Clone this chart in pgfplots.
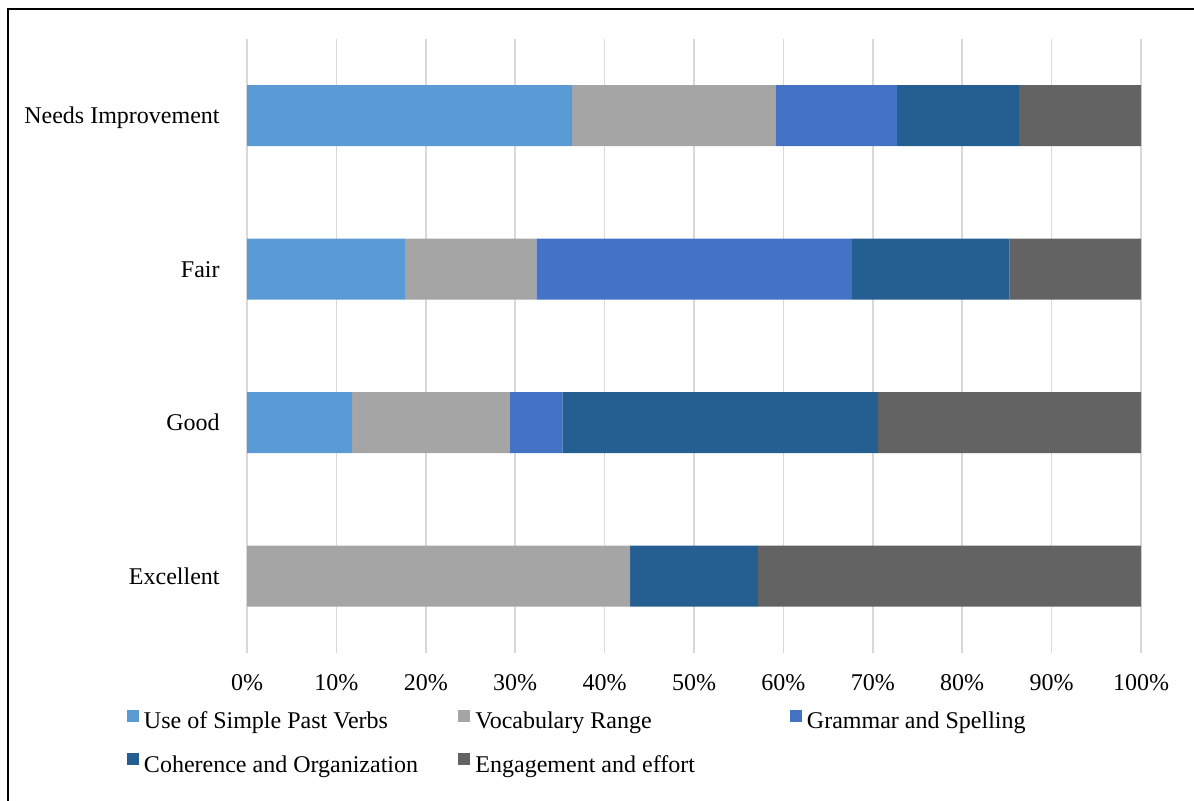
\documentclass[border=0pt]{standalone}
\usepackage{pgfplots}
\pgfplotsset{compat=1.18}
\usepackage{fontspec}
\setmainfont{Liberation Serif}
\definecolor{cA}{HTML}{5B9BD5}
\definecolor{cB}{HTML}{A5A5A5}
\definecolor{cC}{HTML}{4472C4}
\definecolor{cD}{HTML}{255E91}
\definecolor{cE}{HTML}{636363}
\definecolor{gridgray}{HTML}{D9D9D9}
\begin{document}
\begin{tikzpicture}
\useasboundingbox (0,0) rectangle (597pt,400.5pt);
\draw[line width=1pt] (4pt,0) -- (4pt,395.75pt) -- (597pt,395.75pt);
\begin{axis}[
  at={(123.5pt,74pt)}, anchor=south west,
  scale only axis, width=447pt, height=307pt,
  xbar stacked, bar width=30.5pt,
  xmin=0, xmax=100, ymin=-0.5, ymax=3.5,
  xtick={0,10,20,30,40,50,60,70,80,90,100},
  xticklabels={0\%,10\%,20\%,30\%,40\%,50\%,60\%,70\%,80\%,90\%,100\%},
  ytick={0,1,2,3},
  yticklabels={Excellent,Good,Fair,Needs Improvement},
  xmajorgrids, ymajorgrids=false,
  major grid style={color=gridgray, line width=0.75pt},
  axis line style={draw=none},
  major tick length=0pt, tick style={draw=none},
  tick label style={font=\fontsize{12pt}{14pt}\selectfont},
  xticklabel style={anchor=base, inner sep=0pt, yshift=-18.75pt},
  yticklabel style={anchor=base east, inner sep=0pt, xshift=-13.5pt, yshift=-4pt},
  legend columns=3,
  legend cell align=left,
  legend style={at={(axis description cs:0,0)}, anchor=north west,
    xshift=-60pt, yshift=-28.5pt, draw=none, fill=none,
    inner sep=0pt, outer sep=0pt, column sep=0pt, row sep=9.25pt,
    font=\fontsize{12pt}{14pt}\selectfont,
    nodes={inner sep=0pt, text height=9pt, text depth=3pt},
    /tikz/every odd column/.style={column sep=2.5pt}},
  legend image code/.code={\fill[#1] (0pt,0.5pt) rectangle (6pt,6.5pt);},
]
\addplot[fill=cA, draw=none] coordinates {(36.36,3) (17.65,2) (11.76,1) (0,0)};
\addplot[fill=cB, draw=none] coordinates {(22.73,3) (14.71,2) (17.65,1) (42.86,0)};
\addplot[fill=cC, draw=none] coordinates {(13.64,3) (35.29,2) (5.88,1) (0,0)};
\addplot[fill=cD, draw=none] coordinates {(13.64,3) (17.65,2) (35.29,1) (14.29,0)};
\addplot[fill=cE, draw=none] coordinates {(13.63,3) (14.70,2) (29.42,1) (42.85,0)};
\addlegendentry{\makebox[157.25pt][l]{Use of Simple Past Verbs}}
\addlegendentry{\makebox[157.25pt][l]{Vocabulary Range}}
\addlegendentry{\makebox[157.25pt][l]{Grammar and Spelling}}
\addlegendentry{\makebox[157.25pt][l]{Coherence and Organization}}
\addlegendentry{\makebox[157.25pt][l]{Engagement and effort}}
\end{axis}
\end{tikzpicture}
\end{document}
